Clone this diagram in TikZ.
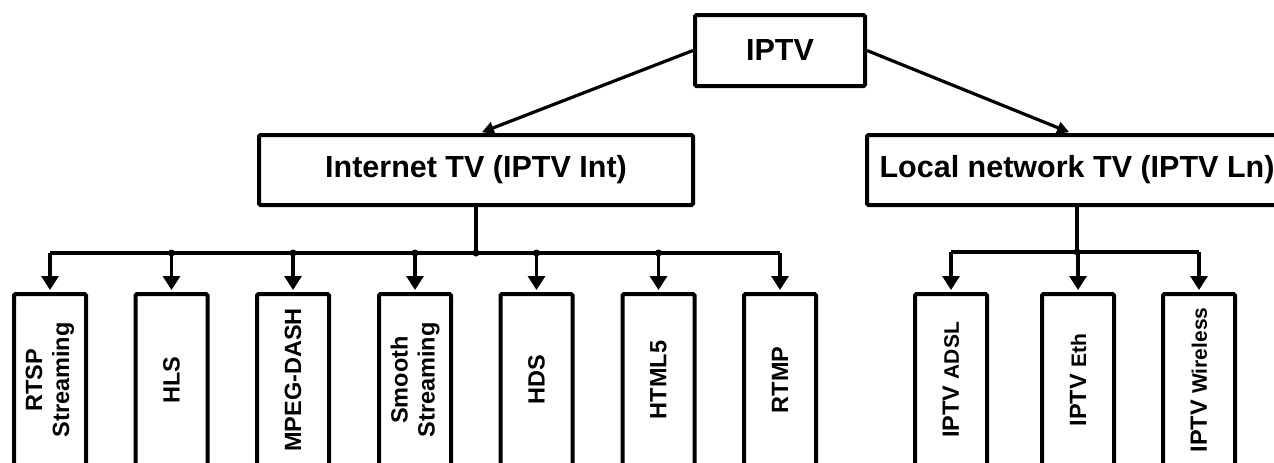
\documentclass[tikz,border=0pt]{standalone}
\usepackage{fontspec}
\setmainfont{Liberation Sans}
\usetikzlibrary{arrows.meta}
\begin{document}
\begin{tikzpicture}[x=1pt,y=-1pt,
  box/.style={draw,line width=4pt,rounded corners=1.5pt,fill=white,inner sep=0pt,
    font=\bfseries\fontsize{30.5}{34}\selectfont},
  leaf/.style={draw,line width=4pt,rounded corners=1.5pt,fill=white,inner sep=0pt,
    rotate=90,minimum width=172pt,minimum height=72pt,align=center,
    font=\bfseries\fontsize{23.5}{27}\selectfont},
  wire/.style={line width=3.2pt},
  arr/.style={line width=3.2pt,-{Triangle[length=14pt,width=17pt]},shorten >=2pt},
  toparr/.style={line width=3.2pt,-{Triangle[length=12pt,width=12pt]},shorten >=2pt},
  dot/.style={circle,fill,inner sep=0pt,minimum size=7pt}]
\useasboundingbox (0,0) rectangle (1274,463);
\clip (0,0) rectangle (1274,463);

\node[box,minimum width=170pt,minimum height=71pt] (iptv) at (780,50.5) {IPTV};
\node[box,minimum width=434pt,minimum height=70pt] (inet) at (476,170) {Internet TV (IPTV Int)};
\node[box,minimum width=420pt,minimum height=70pt] (loc) at (1077,170) {Local network TV (IPTV Ln)};

\draw[toparr] (iptv.west) -- ([xshift=4pt]inet.north);
\draw[toparr] (iptv.east) -- ([xshift=-6pt]loc.north);

\node[leaf] (l1) at (50,380) {RTSP\\Streaming};
\node[leaf] (l2) at (171.5,380) {HLS};
\node[leaf] (l3) at (293,380) {MPEG-DASH};
\node[leaf] (l4) at (415,380) {Smooth\\Streaming};
\node[leaf] (l5) at (536.5,380) {HDS};
\node[leaf] (l6) at (658.5,380) {HTML5};
\node[leaf] (l7) at (780,380) {RTMP};

\node[leaf] (r1) at (951,380) {IPTV {\fontsize{21}{25}\selectfont ADSL}};
\node[leaf] (r2) at (1078,380) {IPTV {\fontsize{21}{25}\selectfont Eth}};
\node[leaf] (r3) at (1199,380) {IPTV {\fontsize{21}{25}\selectfont Wireless}};

% Internet bus
\coordinate (jb) at (476,253);
\draw[wire] (inet.south) -- (jb);
\draw[wire] (l1.east |- jb) -- (l7.east |- jb);
\foreach \n in {l1,l2,l3,l4,l5,l6,l7}{
  \draw[arr] (\n.east |- jb) -- (\n.east);
}
\foreach \n in {l2,l3,l4,l6,l5}{
  \node[dot] at (\n.east |- jb) {};
}
\node[dot] at (jb) {};

% Local bus
\coordinate (jl) at (1077,252);
\draw[wire] (loc.south) -- (jl);
\draw[wire] (r1.east |- jl) -- (r3.east |- jl);
\foreach \n in {r1,r2,r3}{
  \draw[arr] (\n.east |- jl) -- (\n.east);
}
\node[dot] at (jl) {};
\end{tikzpicture}
\end{document}
